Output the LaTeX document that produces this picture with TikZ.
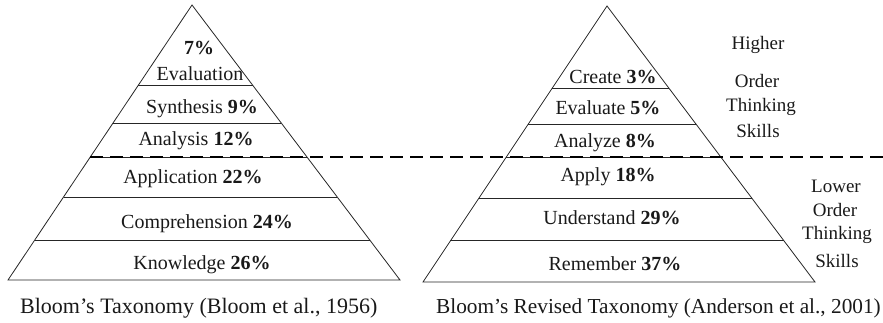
\documentclass[tikz,border=0pt]{standalone}
\usepackage{fontspec}
\setmainfont{Liberation Serif}
\usetikzlibrary{calc}
\begin{document}
\begin{tikzpicture}[x=1pt,y=-1pt,
  outline/.style={line width=0.8pt, draw=black!85, line join=miter},
  tier/.style={line width=0.8pt, draw=black!85},
  lbl/.style={font=\fontsize{20}{22}\selectfont, inner sep=0pt, anchor=base, text=black!90},
  captxt/.style={font=\fontsize{22}{24}\selectfont, inner sep=0pt, anchor=base west, text=black!90},
  side/.style={font=\fontsize{19}{21}\selectfont, inner sep=0pt, anchor=base, text=black!90},
  divider/.style={line width=2.8pt, dash pattern=on 13pt off 7pt}]
\useasboundingbox (0,0) rectangle (883,323);

% original taxonomy pyramid
\coordinate (La)  at (192,5);
\coordinate (Lbl) at (8,280);
\coordinate (Lbr) at (400,280);
\draw[outline] (La) -- (Lbl) -- (Lbr) -- cycle;
\foreach \t in {0.291,0.429,0.553,0.698,0.855}
  \draw[tier] ($(La)!\t!(Lbl)$) -- ($(La)!\t!(Lbr)$);

% revised taxonomy pyramid
\coordinate (Ra)  at (607,6);
\coordinate (Rbl) at (423,282);
\coordinate (Rbr) at (815,282);
\draw[outline] (Ra) -- (Rbl) -- (Rbr) -- cycle;
\foreach \t in {0.297,0.428,0.547,0.696,0.851}
  \draw[tier] ($(Ra)!\t!(Rbl)$) -- ($(Ra)!\t!(Rbr)$);

% split between higher and lower order skills
\coordinate (dstart) at (90,157);
\coordinate (dend) at (883,157);
\draw[divider] (dstart) -- (dend);

% levels of the original taxonomy
\node[lbl] (l1a) at (199,55) {\textbf{7\%}};
\node[lbl] (l1b) at (200,81) {Evaluation};
\node[lbl] (l2) at (202,114) {Synthesis \textbf{9\%}};
\node[lbl] (l3) at (196,146) {Analysis \textbf{12\%}};
\node[lbl] (l4) at (193,184) {Application \textbf{22\%}};
\node[lbl] (l5) at (207,228) {Comprehension \textbf{24\%}};
\node[lbl] (l6) at (202,269) {Knowledge \textbf{26\%}};
\node[captxt] (lcap) at (20,313) {Bloom’s Taxonomy (Bloom et al., 1956)};

% levels of the revised taxonomy
\node[lbl] (r1) at (613,84) {Create \textbf{3\%}};
\node[lbl] (r2) at (608,115) {Evaluate \textbf{5\%}};
\node[lbl] (r3) at (605,148) {Analyze \textbf{8\%}};
\node[lbl] (r4) at (608,182) {Apply \textbf{18\%}};
\node[lbl] (r5) at (612,224) {Understand \textbf{29\%}};
\node[lbl] (r6) at (615,270) {Remember \textbf{37\%}};
\node[captxt, font=\fontsize{21.3}{24}\selectfont] (rcap) at (436,313)
  {Bloom’s Revised Taxonomy (Anderson et al., 2001)};

% side notes
\node[side] (h1) at (758,50) {Higher};
\node[side] (h2) at (757,88) {Order};
\node[side] (h3) at (761,112) {Thinking};
\node[side] (h4) at (758,138) {Skills};
\node[side] (w1) at (836,193) {Lower};
\node[side] (w2) at (835,217) {Order};
\node[side] (w3) at (837,240) {Thinking};
\node[side] (w4) at (837,267) {Skills};
\end{tikzpicture}
\end{document}
